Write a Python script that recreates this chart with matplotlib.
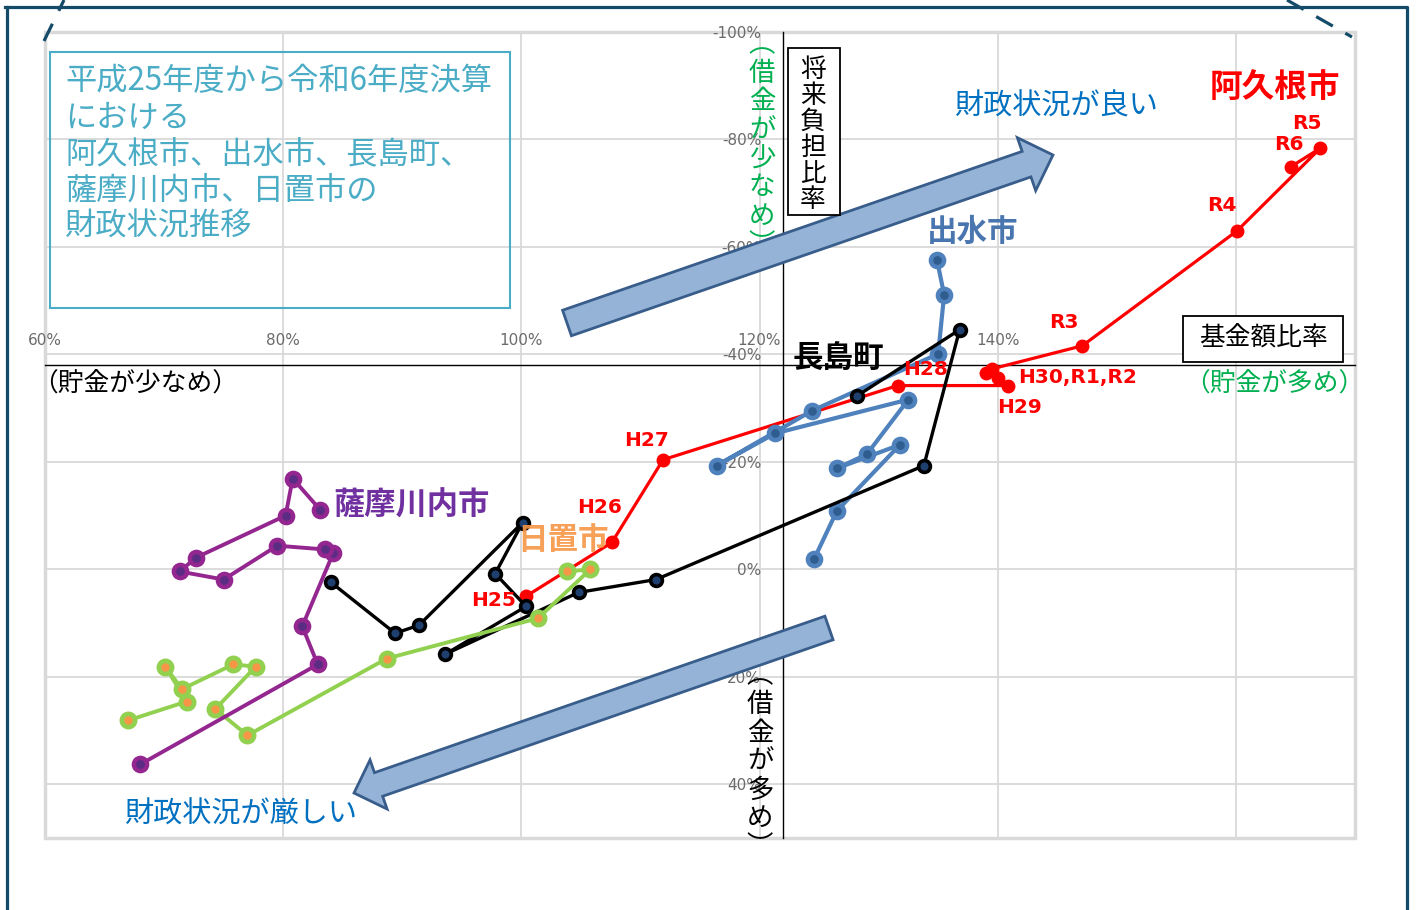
import matplotlib
matplotlib.use("Agg")
import matplotlib.pyplot as plt
from matplotlib.patches import Polygon, Rectangle
from matplotlib.lines import Line2D
import numpy as np

plt.rcParams['font.family'] = ['Noto Sans CJK JP', 'DejaVu Sans']
plt.rcParams['axes.unicode_minus'] = False

# ---- data (基金額比率 %, 将来負担比率 %) ----
years = ["H25", "H26", "H27", "H28", "H29", "H30", "R1", "R2", "R3", "R4", "R5", "R6"]
akune_labels = ["H25", "H26", "H27", "H28", "H29", "H30,R1,R2", "", "", "R3", "R4", "R5", "R6"]

akune_x = [100.4, 107.6, 111.9, 131.6, 140.9, 140.0, 139.0, 139.5, 147.1, 160.1, 167.1, 164.6]
akune_y = [5.0, -5.0, -20.4, -34.2, -34.2, -35.7, -36.6, -37.3, -41.6, -63.0, -78.4, -74.9]

izumi_x = [124.6, 126.5, 131.8, 126.5, 129.0, 132.5, 121.3, 116.4, 124.4, 135.0, 135.5, 134.9]
izumi_y = [-2.0, -10.9, -23.2, -18.8, -21.4, -31.6, -25.3, -19.3, -29.5, -40.1, -51.1, -57.6]

nagashima_x = [84.0, 89.4, 91.4, 100.1, 97.8, 100.4, 93.6, 104.8, 111.3, 133.8, 136.8, 128.2]
nagashima_y = [2.4, 11.9, 10.4, -8.7, 0.8, 6.9, 15.8, 4.3, 1.9, -19.3, -44.6, -32.3]

satsuma_x = [68.0, 82.9, 81.6, 84.2, 83.5, 79.5, 75.0, 71.3, 72.7, 80.2, 80.8, 83.1]
satsuma_y = [36.3, 17.7, 10.6, -3.0, -3.7, -4.4, 1.9, 0.4, -2.2, -10.0, -16.9, -11.1]

hioki_x = [67.0, 71.9, 70.1, 71.5, 75.8, 77.7, 74.3, 77.0, 88.7, 101.4, 105.8, 103.8]
hioki_y = [28.1, 24.6, 18.1, 22.3, 17.7, 18.1, 26.0, 30.9, 16.6, 9.1, 0.0, 0.4]

x_ticks = [60, 80, 100, 120, 140, 160]
y_ticks = [-100, -80, -60, -40, -20, 0, 20, 40]

W, H = 1417, 910


def fx(x):
    return x / W


def fy(y):
    return 1 - y / H


fig = plt.figure(figsize=(W / 100, H / 100), dpi=100)
fig.patch.set_facecolor("white")

# plot area in pixels: left 45, right 1355, top 32, bottom 838
ax = fig.add_axes([fx(45), fy(838), (1355 - 45) / W, (838 - 32) / H])
ax.set_xlim(60, 170)
ax.set_ylim(50, -100)
ax.set_axisbelow(True)
ax.grid(True, color="#d9d9d9", lw=1.3)

# axes cross at 122% / -38%
ax.spines["left"].set_position(("data", 122))
ax.spines["top"].set_position(("data", -38))
for s in ["bottom", "right"]:
    ax.spines[s].set_visible(False)
for s in ["left", "top"]:
    ax.spines[s].set_color("black")
    ax.spines[s].set_linewidth(1.0)
ax.xaxis.tick_top()
ax.set_xticks(x_ticks)
ax.set_xticklabels([f"{v}%" for v in x_ticks])
ax.set_yticks(y_ticks)
ax.set_yticklabels([f"{v}%" for v in y_ticks])
ax.tick_params(axis="x", length=0, pad=12, labelsize=11, labelcolor="#6b6b6b")
ax.tick_params(axis="y", length=0, pad=16, labelsize=11, labelcolor="#6b6b6b")
for t in ax.get_xticklabels() + ax.get_yticklabels():
    t.set_family(["DejaVu Sans"])

# gray plot-area border (kept under the tick labels)
ax.add_patch(Rectangle((0, 0), 1, 1, transform=ax.transAxes, fill=False,
                       ec="#d9d9d9", lw=2.5, clip_on=False, zorder=0.3))

# ---- series ----
ax.plot(akune_x, akune_y, color="#ff0000", lw=2.3, marker="o", ms=9,
        mfc="#ff0000", mec="#ff0000", zorder=3)
ax.plot(izumi_x, izumi_y, color="#4f81bd", lw=3.0, marker="o", ms=9.5,
        mfc="#2f5d8f", mec="#4f81bd", mew=3.2, zorder=4)
ax.plot(nagashima_x, nagashima_y, color="black", lw=2.4, marker="o", ms=8.5,
        mfc="#1f3f6f", mec="black", mew=2.6, zorder=5)
ax.plot(hioki_x, hioki_y, color="#92d050", lw=2.8, marker="o", ms=9.5,
        mfc="#f79646", mec="#92d050", mew=3.4, zorder=6)
ax.plot(satsuma_x, satsuma_y, color="#93278f", lw=2.8, marker="o", ms=9.5,
        mfc="#5b2c83", mec="#93278f", mew=3.2, zorder=7)

# year labels for 阿久根市 (offsets in pixels)
label_offsets = {
    "H25": (-10, -4, "right"), "H26": (-12, 35, "center"), "H27": (-17, 19, "center"),
    "H28": (28, 16, "center"), "H29": (11, -22, "center"), "H30,R1,R2": (20, 0, "left"),
    "R3": (-18, 23, "center"), "R4": (-15, 25, "center"), "R5": (-14, 25, "center"),
    "R6": (-2, 22, "center"),
}
for lab, xv, yv in zip(akune_labels, akune_x, akune_y):
    if not lab:
        continue
    dx, dy, ha = label_offsets[lab]
    ax.annotate(lab, (xv, yv), xytext=(dx, dy), textcoords="offset pixels",
                ha=ha, va="center", color="#ff0000", fontsize=14.5,
                fontweight="bold", family=["DejaVu Sans"], zorder=8)


# ---- arrows (figure pixels) ----
def block_arrow(tail, tip, half_w, head_half, head_len):
    tail = np.array(tail, float)
    tip = np.array(tip, float)
    u = (tip - tail) / np.linalg.norm(tip - tail)
    n = np.array([-u[1], u[0]])
    base = tip - u * head_len
    pts = [tail + n * half_w, base + n * half_w, base + n * head_half, tip,
           base - n * head_half, base - n * half_w, tail - n * half_w]
    pts = [(fx(p[0]), fy(p[1])) for p in pts]
    fig.add_artist(Polygon(pts, closed=True, transform=fig.transFigure,
                           fc="#95b3d7", ec="#385d8a", lw=2))


block_arrow((567, 323), (1053, 155), 13.5, 28, 28)
block_arrow((829, 628), (354, 793), 12.5, 26, 26)


# ---- boxes and annotation texts ----
def box(x0, y0, x1, y1, ec, lw=1.5, fc="none"):
    fig.add_artist(Rectangle((fx(x0), fy(y1)), (x1 - x0) / W, (y1 - y0) / H,
                             transform=fig.transFigure, fc=fc, ec=ec, lw=lw))


def vtext(x, y0, step, s, **kw):
    for i, ch in enumerate(s):
        fig.text(fx(x), fy(y0 + i * step), ch, ha="center", va="center", **kw)


# title box
box(50, 52, 510, 308, "#4bacc6", lw=1.5)
title_lines = ["平成25年度から令和6年度決算", "における", "阿久根市、出水市、長島町、",
               "薩摩川内市、日置市の", "財政状況推移"]
for i, line in enumerate(title_lines):
    fig.text(fx(65), fy(81 + i * 36.5), line, ha="left", va="center",
             fontsize=22.5, color="#4bacc6")

# axis title boxes
box(1183, 316, 1343, 362, "black", lw=1.3, fc="white")
fig.text(fx(1263), fy(339), "基金額比率", ha="center", va="center", fontsize=18.5, color="black")
box(788, 48, 840, 215, "black", lw=1.3, fc="white")
vtext(813, 70, 26, "将来負担比率", fontsize=18.5, color="black")

vtext(762, 45, 28.5, "︵借金が少なめ︶", fontsize=19, color="#00b050")
vtext(760, 676, 28.5, "︵借金が多め︶", fontsize=19, color="black")
fig.text(fx(32), fy(385), "（貯金が少なめ）", ha="left", va="center", fontsize=18.5, color="black")
fig.text(fx(1364), fy(385), "（貯金が多め）", ha="right", va="center", fontsize=18.5, color="#00b050")

fig.text(fx(1056), fy(107), "財政状況が良い", ha="center", va="center", fontsize=21, color="#0070c0")
fig.text(fx(241), fy(815), "財政状況が厳しい", ha="center", va="center", fontsize=21, color="#0070c0")

# city names
fig.text(fx(1275), fy(87), "阿久根市", ha="center", va="center", fontsize=23.5,
         fontweight="bold", color="#ff0000")
fig.text(fx(973), fy(232), "出水市", ha="center", va="center", fontsize=22,
         fontweight="bold", color="#4a76b0")
fig.text(fx(838), fy(358), "長島町", ha="center", va="center", fontsize=22,
         fontweight="bold", color="black")
fig.text(fx(411), fy(506), "薩摩川内市", ha="center", va="center", fontsize=22.5,
         fontweight="bold", color="#7030a0")
fig.text(fx(563), fy(540), "日置市", ha="center", va="center", fontsize=22,
         fontweight="bold", color="#f79646", alpha=0.9)

# ---- outer frame ----
frame_c = "#144b69"
fig.add_artist(Line2D([fx(5), fx(1407), fx(1407)], [fy(7), fy(7), fy(910)],
                      transform=fig.transFigure, color=frame_c, lw=2.3))
fig.add_artist(Line2D([fx(7), fx(7)], [fy(7), fy(910)],
                      transform=fig.transFigure, color=frame_c, lw=2.3))
fig.add_artist(Line2D([fx(44), fx(64)], [fy(41), fy(0)], transform=fig.transFigure,
                      color=frame_c, lw=2.3, ls=(0, (6, 4.5))))
fig.add_artist(Line2D([fx(1287), fx(1352)], [fy(0), fy(37)], transform=fig.transFigure,
                      color=frame_c, lw=2.3, ls=(0, (6, 4.5))))

fig.savefig("out.png", dpi=100)
